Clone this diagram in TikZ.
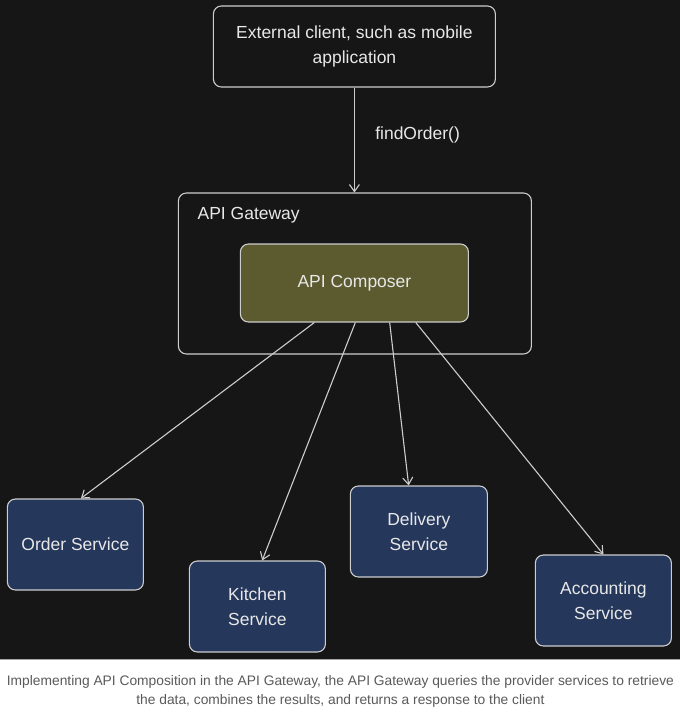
\documentclass[tikz,border=0pt]{standalone}
\usepackage{fontspec}
\setmainfont{Liberation Sans}
\usetikzlibrary{positioning,arrows.meta,calc}
\definecolor{CanvasDark}{RGB}{22,22,22}
\definecolor{EdgeGray}{RGB}{205,205,205}
\definecolor{InkWhite}{RGB}{232,232,232}
\definecolor{ComposerOlive}{RGB}{92,91,47}
\definecolor{ServiceNavy}{RGB}{38,55,92}
\definecolor{CaptionGray}{RGB}{90,90,90}

\tikzset{
  sketchbox/.style={draw=EdgeGray,line width=1.1pt,rounded corners=8pt,inner sep=0pt},
  svcbox/.style={sketchbox,fill=ServiceNavy,minimum width=136pt,minimum height=91pt},
  callarrow/.style={-{Straight Barb[length=7pt,width=10pt]},line width=1.1pt,EdgeGray}
}

\begin{document}
\begin{tikzpicture}[x=1pt,y=-1pt,every node/.style={font=\fontsize{17.5}{25}\selectfont,align=center,text=InkWhite}]
    \fill[CanvasDark] (0,0) rectangle (680,659);
    \fill[white] (0,659) rectangle (680,710);
    \draw[gray!70,line width=0.8pt] (0,659) -- (680,659);
    \useasboundingbox (0,0) rectangle (680,710);

    \node[sketchbox,fill=CanvasDark,minimum width=282pt,minimum height=81pt] (client) at (354,46.5) {External client, such as mobile\\application};
    \node[sketchbox,fill=CanvasDark,minimum width=353pt,minimum height=161pt] (gateway) at (354.5,273.5) {};
    \node[anchor=base west,inner sep=0pt] (gwlabel) at (197,219) {API Gateway};
    \node[sketchbox,fill=ComposerOlive,minimum width=228pt,minimum height=78pt] (composer) at (354,283) {API Composer};

    \node[svcbox] (order) at (75,544.5) {Order Service};
    \node[svcbox] (kitchen) at (257,606.5) {Kitchen\\Service};
    \node[svcbox,minimum width=137pt] (delivery) at (418.5,531.5) {Delivery\\Service};
    \node[svcbox] (accounting) at (603,600.5) {Accounting\\Service};

    \draw[callarrow] (client.south) -- node[pos=0.45,right=17pt]{findOrder()} (client.south |- gateway.north);

    \draw[callarrow] ($(composer.south west)!0.325!(composer.south east)$) -- ($(order.north west)!0.54!(order.north east)$);
    \draw[callarrow] ($(composer.south west)!0.504!(composer.south east)$) -- ($(kitchen.north west)!0.535!(kitchen.north east)$);
    \draw[callarrow] ($(composer.south west)!0.654!(composer.south east)$) -- ($(delivery.north west)!0.426!(delivery.north east)$);
    \draw[callarrow] ($(composer.south west)!0.768!(composer.south east)$) -- (accounting.north);

    \node[font=\fontsize{13.8}{19}\selectfont,text=CaptionGray] (caption) at (340,691) {Implementing API Composition in the API Gateway, the API Gateway queries the provider services to retrieve\\the data, combines the results, and returns a response to the client};
  \end{tikzpicture}
\end{document}
